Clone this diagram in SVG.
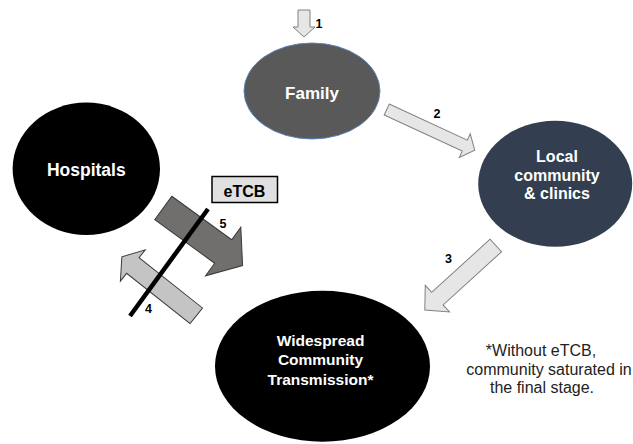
<svg xmlns="http://www.w3.org/2000/svg" width="633" height="444" viewBox="0 0 633 444">
<style>
.lbl{font-family:"Liberation Sans",Arial,sans-serif;font-weight:bold;fill:#fff;text-anchor:middle}
.num{font-family:"Liberation Sans",Arial,sans-serif;font-weight:bold;font-size:12.5px;fill:#000;text-anchor:middle}
.note{font-family:"Liberation Sans",Arial,sans-serif;font-size:16px;fill:#222;text-anchor:middle}
.light{fill:#e6e6e6;stroke:#808080;stroke-width:1}
</style>
<rect width="633" height="444" fill="#fff"/>
<g id="connectors">
  <polygon id="arrow1" class="light" points="298,10 310,10 310,27 315,27 304,37 293,27 298,27"/>
  <polygon id="arrow2" class="light" transform="translate(386.7,109.5) rotate(24.8)" points="0,-6 86,-6 86,-13 97,0 86,13 86,6 0,6"/>
  <polygon id="arrow3" class="light" transform="translate(495.8,245.5) rotate(137.7)" points="0,-8.5 79,-8.5 79,-18 96,0 79,18 79,8.5 0,8.5"/>
  <polygon id="arrow5" fill="#716e6e" stroke="#3a3a3a" stroke-width="1" transform="translate(163.3,208) rotate(36)" points="0,-14.5 74,-14.5 74,-30 98,0 74,30 74,14.5 0,14.5"/>
  <polygon id="arrow4" fill="#c4c4c4" stroke="#3a3a3a" stroke-width="1" transform="translate(196.3,315.8) rotate(218.4)" points="0,-10 81,-10 81,-20 95,0 81,20 81,10 0,10"/>
  <line id="barrier" x1="208" y1="209" x2="130" y2="316" stroke="#000" stroke-width="4.5"/>
  <text class="num" x="319" y="28">1</text>
  <text class="num" x="437" y="118">2</text>
  <text class="num" x="448.5" y="262.5">3</text>
  <text class="num" x="148.5" y="312.5">4</text>
  <text class="num" x="223" y="227.5">5</text>
</g>
<g id="family">
  <ellipse cx="312" cy="91" rx="68" ry="48" fill="#595959" stroke="#5a82b8" stroke-width="1"/>
  <text class="lbl" x="312" y="99" font-size="17">Family</text>
</g>
<g id="hospitals">
  <ellipse cx="86.3" cy="168.8" rx="73.7" ry="66.2" fill="#000"/>
  <text class="lbl" x="86.3" y="176" font-size="17.5">Hospitals</text>
</g>
<g id="local">
  <ellipse cx="555.2" cy="183.7" rx="77" ry="63" fill="#333f50"/>
  <text class="lbl" font-size="16" x="557" y="162">Local</text>
  <text class="lbl" font-size="16" x="557" y="180.5">community</text>
  <text class="lbl" font-size="16" x="557" y="199">&amp; clinics</text>
</g>
<g id="widespread">
  <ellipse cx="322.5" cy="366.2" rx="107.5" ry="75.5" fill="#000"/>
  <text class="lbl" font-size="15.5" x="320.5" y="345.5">Widespread</text>
  <text class="lbl" font-size="15.5" x="320.5" y="365">Community</text>
  <text class="lbl" font-size="15.5" x="320.5" y="385">Transmission*</text>
</g>
<g id="etcb">
  <rect x="212" y="176.5" width="65.5" height="26" fill="#e0e0e0" stroke="#000" stroke-width="1.5"/>
  <text x="244.5" y="197" font-family="Liberation Sans, Arial, sans-serif" font-weight="bold" font-size="16" text-anchor="middle" fill="#000">eTCB</text>
</g>
<g id="note">
  <text class="note" x="541" y="356">*Without eTCB,</text>
  <text class="note" x="549" y="374.5">community saturated in</text>
  <text class="note" x="542" y="393">the final stage.</text>
</g>
</svg>
